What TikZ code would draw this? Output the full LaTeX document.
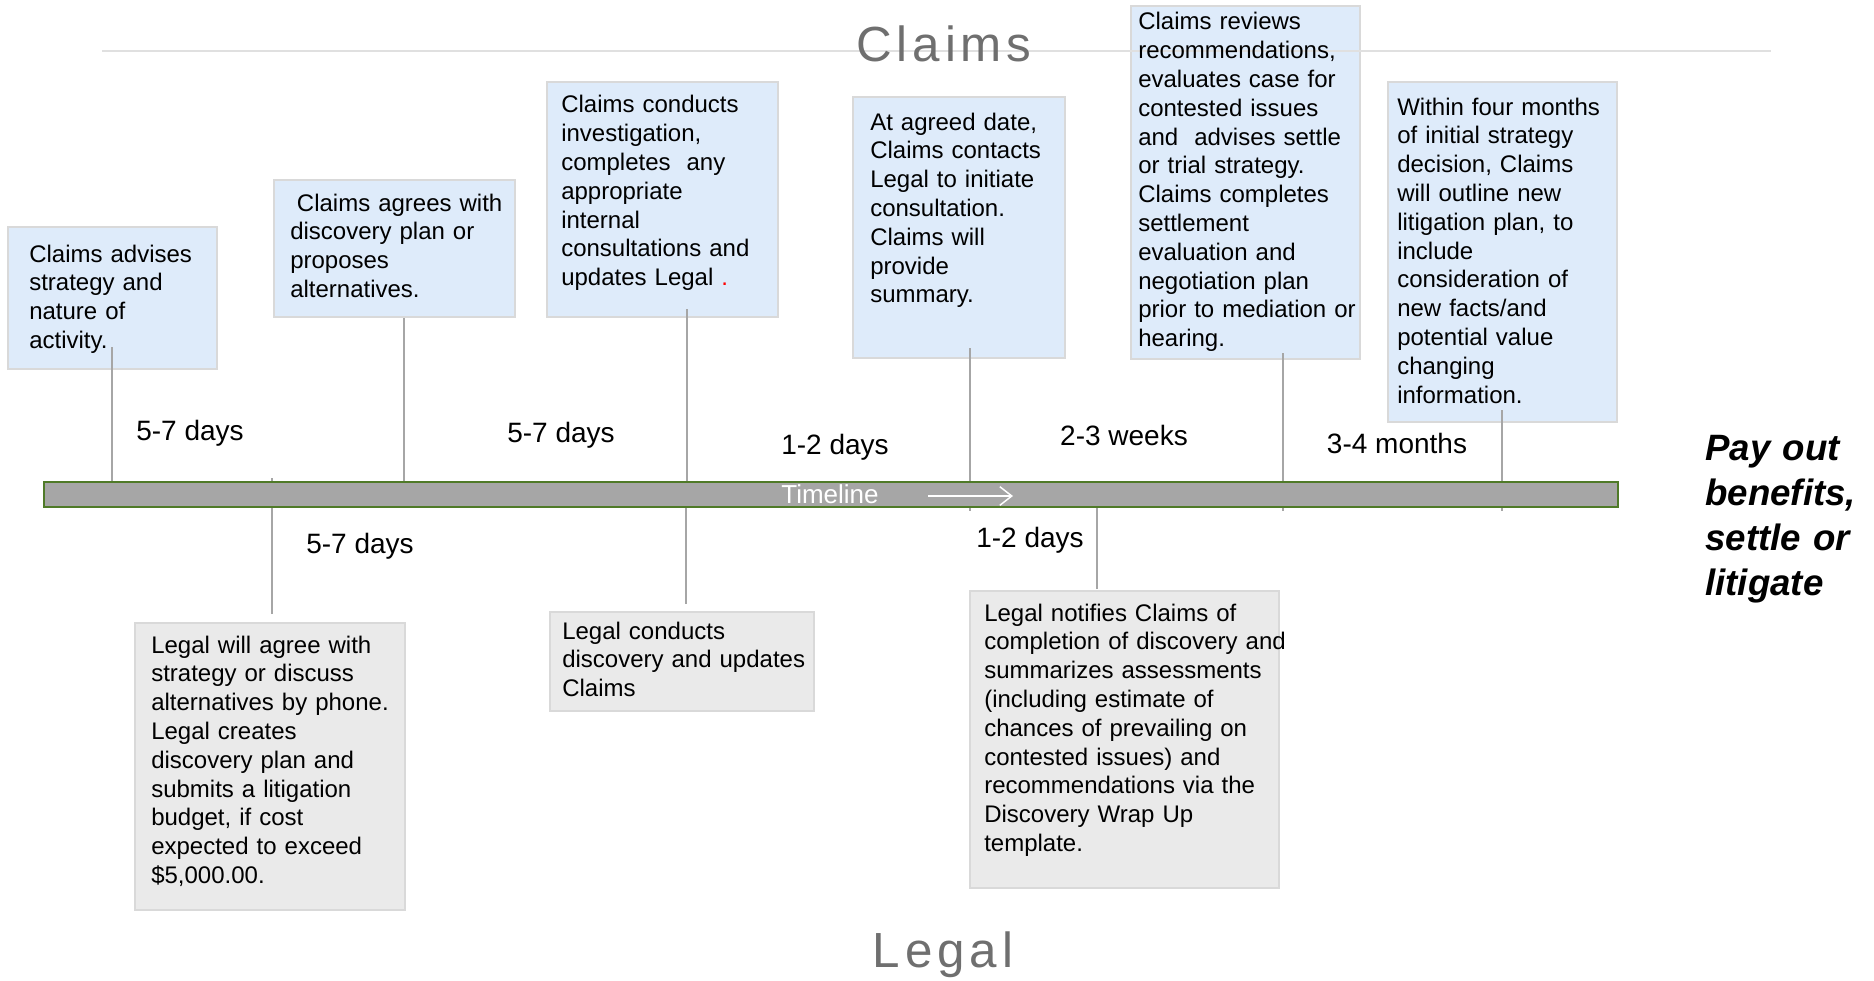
\documentclass[tikz,border=0pt]{standalone}
\usepackage{fontspec}
\setmainfont{Liberation Sans}
\newfontfamily\titlefont[LetterSpace=10]{Liberation Sans}
\usetikzlibrary{fit,arrows.meta}
\definecolor{cblue}{HTML}{DEEBFA}
\definecolor{lgray}{HTML}{EAEAEA}
\definecolor{bord}{HTML}{D9D9D9}
\definecolor{connc}{HTML}{A6A6A6}
\definecolor{barfill}{HTML}{A6A6A6}
\definecolor{bargreen}{HTML}{4F7A28}
\definecolor{titlegray}{HTML}{6F6F6F}
\definecolor{rulegray}{HTML}{E0E0E0}
\pgfdeclarelayer{front}
\pgfsetlayers{main,front}
\begin{document}
\begin{tikzpicture}[x=0.75pt,y=-0.75pt,
  bluebox/.style={draw=bord, line width=1.5pt, fill=cblue, inner sep=0pt},
  graybox/.style={draw=bord, line width=1.5pt, fill=lgray, inner sep=0pt},
  body/.style={font=\fontsize{18pt}{21.6pt}\selectfont, text width=330pt, align=left, inner sep=0pt, anchor=base west},
  dur/.style={font=\fontsize{21pt}{25pt}\selectfont, inner sep=0pt},
  conn/.style={draw=connc, line width=1.5pt},
  heading/.style={font=\titlefont\fontsize{37pt}{42pt}\selectfont, text=titlegray, inner sep=0pt},
  barstyle/.style={draw=bargreen, fill=barfill, line width=1.4pt, inner sep=0pt}]
\useasboundingbox (0,0) rectangle (1874,981);

% boxes
\node[bluebox, fit={(8,227) (217,369)}] (b1) {};
\node[bluebox, fit={(274,180) (515,317)}] (b2) {};
\node[bluebox, fit={(547,82) (778,317)}] (b3) {};
\node[bluebox, fit={(853,97) (1065,358)}] (b4) {};
\node[bluebox, fit={(1131,6) (1360,359)}] (b5) {};
\node[bluebox, fit={(1388,82) (1617,422)}] (b6) {};
\node[graybox, fit={(135,623) (405,910)}] (b7) {};
\node[graybox, fit={(550,612) (814,711)}] (b8) {};
\node[graybox, fit={(970,591) (1279,888)}] (b9) {};

% top rule and titles
\coordinate (rl) at (102,51);
\coordinate (rr) at (1771,51);
\draw[rulegray, line width=1.1pt] (rl) -- (rr);
\node[heading] (claims) at (944,44) {Claims};
\node[heading] (legal) at (943,955) {Legal};

% timeline bar
\begin{pgfonlayer}{front}
\node[barstyle, fit={(44,482) (1618,507)}] (tl) {};
\node[font=\fontsize{19.5pt}{23pt}\selectfont, text=white, inner sep=0pt, anchor=base] (tltxt) at (830,503) {Timeline};
\coordinate (ars) at (928,496);
\coordinate (are) at (1013,496);
\draw[white, line width=1.1pt, -{Straight Barb[length=9pt,width=14pt]}] (ars) -- (are);
\end{pgfonlayer}

% connectors
\coordinate (c1) at (112,347);
\coordinate (c2) at (404,318);
\coordinate (c3) at (687,309);
\coordinate (c4) at (970,348);
\coordinate (c5) at (1283,353);
\coordinate (c6) at (1502,410);
\coordinate (c7) at (272,614);
\coordinate (c8) at (686,604);
\coordinate (c9) at (1097,589);
\draw[conn] (c1) -- (c1 |- tl.north);
\draw[conn] (c2) -- (c2 |- tl.north);
\draw[conn] (c3) -- (c3 |- tl.north);
\draw[conn] (c4) -- (c4 |- tl.south) -- ++(0,3);
\draw[conn] (c5) -- (c5 |- tl.south) -- ++(0,3);
\draw[conn] (c6) -- (c6 |- tl.south) -- ++(0,3);
\draw[conn] (c7) -- (c7 |- tl.north) -- ++(0,-3);
\draw[conn] (c8) -- (c8 |- tl.south);
\draw[conn] (c9) -- (c9 |- tl.south);

% box texts
\node[body] (t1) at (29,262) {Claims advises\\strategy and\\nature of\\activity.};
\node[body] (t2) at (290,211) {\hspace*{0.28em}Claims agrees with\\discovery plan or\\proposes\\alternatives.};
\node[body] (t3) at (561,113) {Claims conducts\\investigation,\\completes\ \ any\\appropriate\\internal\\consultations and\\updates Legal {\color{red}.}};
\node[body] (t4) at (870,130) {At agreed date,\\Claims contacts\\Legal to initiate\\consultation.\\Claims will\\provide\\summary.};
\node[body] (t5) at (1138,30) {Claims reviews\\recommendations,\\evaluates case for\\contested issues\\and\ \ advises settle\\or trial strategy.\\Claims completes\\settlement\\evaluation and\\negotiation plan\\prior to mediation or\\hearing.};
\node[body] (t6) at (1397,115) {Within four months\\of initial strategy\\decision, Claims\\will outline new\\litigation plan, to\\include\\consideration of\\new facts/and\\potential value\\changing\\information.};
\node[body] (t7) at (151,653) {Legal will agree with\\strategy or discuss\\alternatives by phone.\\Legal creates\\discovery plan and\\submits a litigation\\budget, if cost\\expected to exceed\\\$5,000.00.};
\node[body] (t8) at (562,639) {Legal conducts\\discovery and updates\\Claims};
\node[body] (t9) at (984,621) {Legal notifies Claims of\\completion of discovery and\\summarizes assessments\\(including estimate of\\chances of prevailing on\\contested issues) and\\recommendations via the\\Discovery Wrap Up\\template.};

% durations
\node[dur] (d1) at (190,433) {5-7 days};
\node[dur] (d2) at (561,435) {5-7 days};
\node[dur] (d3) at (835,447) {1-2 days};
\node[dur] (d4) at (1124,435) {2-3 weeks};
\node[dur] (d5) at (1397,443) {3-4 months};
\node[dur] (d6) at (360,546) {5-7 days};
\node[dur] (d7) at (1030,540) {1-2 days};

% outcome
\node[font=\fontsize{27.5pt}{33.75pt}\selectfont\bfseries\itshape, text width=200pt, align=left, inner sep=0pt, anchor=base west] (out) at (1705,460) {Pay out\\benefits,\\settle or\\litigate};
\end{tikzpicture}
\end{document}
